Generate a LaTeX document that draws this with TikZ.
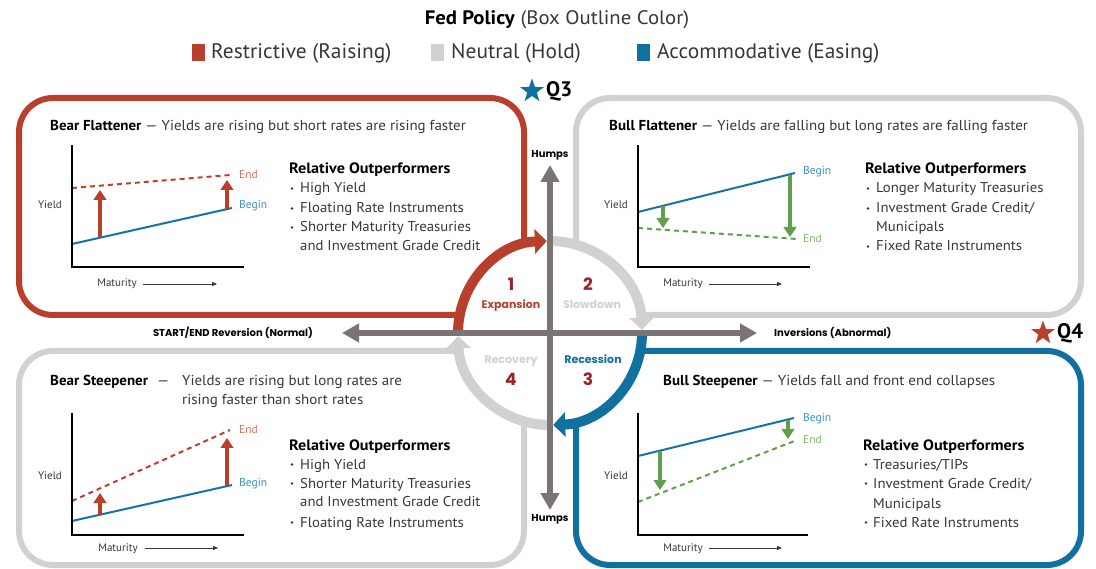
\documentclass[tikz,border=0pt]{standalone}
\usepackage{fontspec}
\setmainfont{PT Sans}
\newfontfamily\gotham{Poppins}
\usetikzlibrary{arrows.meta,shapes.geometric}
\definecolor{cRed}{RGB}{183,63,43}
\definecolor{cBlue}{RGB}{16,112,160}
\definecolor{cGray}{RGB}{210,208,208}
\definecolor{cAxis}{RGB}{122,117,116}
\definecolor{cNum}{RGB}{155,35,40}
\definecolor{cGreen}{RGB}{96,160,76}
\definecolor{cTxt}{RGB}{55,55,55}
\definecolor{cBegin}{RGB}{60,145,195}
\definecolor{cEnd}{RGB}{215,115,90}
\definecolor{cEndG}{RGB}{125,185,105}
\definecolor{cLine}{RGB}{22,115,170}
\definecolor{cDash}{RGB}{192,62,45}
\newcommand\strfont[2]{\fontsize{#1}{#1}\selectfont\addfontfeature{FakeStretch=#2}}
\tikzset{
 every node/.style={inner sep=0pt},
 boxline/.style={line width=6pt, rounded corners=34pt},
 ring/.style={line width=10pt},
 ringtip/.style={-{Triangle[width=24pt,length=12pt]}},
 axisline/.style={draw=cAxis, line width=6pt, {Triangle[width=18pt,length=17pt]}-{Triangle[width=18pt,length=17pt]}},
 ptitle/.style={font=\strfont{14.4}{1.04}, text=cTxt, anchor=base west},
 ro/.style={font=\bfseries\strfont{15}{1.08}, text=black, anchor=base west},
 item/.style={font=\strfont{14.2}{1.04}, text=cTxt, anchor=base west},
 bdot/.style={circle, fill=cTxt, minimum size=2.6pt},
 small/.style={font=\fontsize{11}{13}\selectfont, text=cTxt, anchor=base},
 lbl/.style={font=\fontsize{11.5}{13}\selectfont, anchor=base west},
 chartax/.style={line width=1.6pt, draw=black},
 cbeg/.style={line width=2pt, draw=cLine},
 cend/.style={line width=2pt, dash pattern=on 5pt off 4pt},
 uparr/.style={line width=4.5pt, -{Triangle[width=12.5pt,length=10pt]}},
 matarr/.style={line width=0.8pt, draw=cTxt, -{Triangle[width=4pt,length=5pt]}},
 gl/.style={font=\gotham\bfseries\fontsize{10}{12}\selectfont, text=black},
 num/.style={font=\gotham\bfseries\fontsize{17}{19}\selectfont, text=cNum, anchor=base},
 phase/.style={font=\gotham\bfseries\fontsize{11}{13}\selectfont, anchor=base},
 qstar/.style={star, star points=5, star point ratio=2.5, minimum size=25pt},
 qlab/.style={font=\bfseries\fontsize{21}{23}\selectfont, text=black, anchor=west},
 legsq/.style={minimum width=13pt, minimum height=17pt},
 legt/.style={font=\strfont{21}{1.02}, text=cTxt, anchor=base west},
}
\begin{document}
\begin{tikzpicture}[x=1pt,y=-1pt]
\useasboundingbox (0,0) rectangle (1096,569);
\fill[white] (0,0) rectangle (1096,569);

% legend
\node[font=\strfont{19.5}{1.065}, text=black, anchor=base] (ltitle) at (557,25) {\textbf{Fed Policy} {\color{cTxt}(Box Outline Color)}};
\node[legsq, fill=cRed] (lsq1) at (198.5,52.5) {};
\node[legt] (lt1) at (211,59) {Restrictive (Raising)};
\node[legsq, fill=cGray] (lsq2) at (437.5,52.5) {};
\node[legt] (lt2) at (451,59) {Neutral (Hold)};
\node[legsq, fill=cBlue] (lsq3) at (643.5,52.5) {};
\node[legt] (lt3) at (657,59) {Accommodative (Easing)};

% boxes
\draw[boxline, draw=cRed] (460,315) -- (19,315) -- (19,98) -- (524,98) -- (524,245);
\draw[boxline, draw=cGray] (576,245) -- (576,98) -- (1081,98) -- (1081,315) -- (640,315);
\draw[boxline, draw=cGray] (460,351) -- (19,351) -- (19,565) -- (524,565) -- (524,421);
\draw[boxline, draw=cBlue] (640,351) -- (1081,351) -- (1081,565) -- (576,565) -- (576,421);

% ring
\coordinate (c) at (550,333);
\draw[ring, ringtip, cRed] (c) ++(180:92) arc[start angle=180, end angle=268, radius=92];
\draw[ring, ringtip, cGray] (c) ++(270:92) arc[start angle=270, end angle=358, radius=92];
\draw[ring, ringtip, cBlue] (c) ++(0:92) arc[start angle=0, end angle=88, radius=92];
\draw[ring, ringtip, cGray] (c) ++(90:92) arc[start angle=90, end angle=178, radius=92];

% axes
\coordinate (vt) at (550,165);
\coordinate (vb) at (550,510);
\coordinate (hl) at (342,333);
\coordinate (hr) at (757,333);
\draw[axisline] (vt) -- (vb);
\draw[axisline] (hl) -- (hr);
\node[gl, anchor=base] (humpsT) at (550,158) {Humps};
\node[gl, anchor=base] (humpsB) at (550,521) {Humps};
\node[gl, anchor=base] (startend) at (233,337) {START/END Reversion (Normal)};
\node[gl, anchor=base west] (inv) at (774,337) {Inversions (Abnormal)};

% phases
\node[num] (n1) at (511,291) {1};
\node[phase, text=cRed] (p1) at (511,309) {Expansion};
\node[num] (n2) at (588,291) {2};
\node[phase, text=cGray] (p2) at (592,309) {Slowdown};
\node[phase, text=cGray] (p4) at (511,364) {Recovery};
\node[num] (n4) at (511,386) {4};
\node[phase, text=cBlue] (p3) at (593,364) {Recession};
\node[num] (n3) at (588,386) {3};

% quarter markers
\node[qstar, fill=cBlue] (s3) at (532,91) {};
\node[qlab] (q3) at (546,91) {Q3};
\node[qstar, fill=cRed] (s4) at (1043,333) {};
\node[qlab] (q4) at (1057,333) {Q4};

% ---------- Panel: Bear Flattener ----------
\node[ptitle] (t1) at (50,131) {\textbf{\color{black}Bear Flattener} — Yields are rising but short rates are rising faster};
\draw[cbeg] (72,244) -- (232,208);
\draw[cend, draw=cDash] (72,188) -- (230,175);
\draw[uparr, cRed] (100,238) -- (100,190);
\draw[uparr, cRed] (227,209) -- (227,180);
\draw[chartax] (72,145) -- (72,267) -- (244,267);
\node[small] (y1) at (50,209) {Yield};
\node[small] (m1) at (117,287) {Maturity};
\coordinate (m1a) at (143,284); \coordinate (m1b) at (217,284);
\draw[matarr] (m1a) -- (m1b);
\node[lbl, text=cEnd] (e1) at (239,179) {End};
\node[lbl, text=cBegin] (g1) at (239,209) {Begin};
\node[ro] (r1) at (289,174) {Relative Outperformers};
\node[bdot] (d11) at (292,188.5) {}; \node[item] (i11) at (300,193) {High Yield};
\node[bdot] (d12) at (292,208.5) {}; \node[item] (i12) at (300,213) {Floating Rate Instruments};
\node[bdot] (d13) at (292,227.5) {}; \node[item] (i13) at (300,232) {Shorter Maturity Treasuries};
\node[item] (i14) at (300,251) {and Investment Grade Credit};

% ---------- Panel: Bull Flattener ----------
\node[ptitle] (t2) at (609,131) {\textbf{\color{black}Bull Flattener} — Yields are falling but long rates are falling faster};
\draw[cbeg] (638,212) -- (795,173);
\draw[cend, draw=cGreen] (638,228) -- (797,239);
\draw[uparr, cGreen] (663,206) -- (663,228);
\draw[uparr, cGreen] (790,175) -- (790,237);
\draw[chartax] (638,145) -- (638,267) -- (810,267);
\node[small] (y2) at (616,209) {Yield};
\node[small] (m2) at (683,287) {Maturity};
\coordinate (m2a) at (709,284); \coordinate (m2b) at (782,284);
\draw[matarr] (m2a) -- (m2b);
\node[lbl, text=cBegin] (g2) at (803,175) {Begin};
\node[lbl, text=cEndG] (e2) at (803,243) {End};
\node[ro] (r2) at (865,174) {Relative Outperformers};
\node[bdot] (d21) at (868,188.5) {}; \node[item] (i21) at (876,193) {Longer Maturity Treasuries};
\node[bdot] (d22) at (868,208.5) {}; \node[item] (i22) at (876,213) {Investment Grade Credit/};
\node[item] (i23) at (876,232) {Municipals};
\node[bdot] (d24) at (868,246.5) {}; \node[item] (i24) at (876,251) {Fixed Rate Instruments};

% ---------- Panel: Bear Steepener ----------
\node[ptitle] (t4a) at (50,386) {\textbf{\color{black}Bear Steepener}};
\node[ptitle] (t4d) at (157,386) {—};
\node[ptitle] (t4b) at (182,386) {Yields are rising but long rates are};
\node[ptitle] (t4c) at (182,405) {rising faster than short rates};
\draw[cbeg] (72,521) -- (232,485);
\draw[cend, draw=cDash] (72,501) -- (230,430);
\draw[uparr, cRed] (100,515) -- (100,493);
\draw[uparr, cRed] (227,486) -- (227,438);
\draw[chartax] (72,413) -- (72,535) -- (244,535);
\node[small] (y4) at (50,479) {Yield};
\node[small] (m4) at (118,551) {Maturity};
\coordinate (m4a) at (145,548); \coordinate (m4b) at (218,548);
\draw[matarr] (m4a) -- (m4b);
\node[lbl, text=cEnd] (e4) at (239,434) {End};
\node[lbl, text=cBegin] (g4) at (239,486) {Begin};
\node[ro] (r4) at (289,450) {Relative Outperformers};
\node[bdot] (d41) at (292,464.5) {}; \node[item] (i41) at (300,469) {High Yield};
\node[bdot] (d42) at (292,483.5) {}; \node[item] (i42) at (300,488) {Shorter Maturity Treasuries};
\node[item] (i43) at (300,507) {and Investment Grade Credit};
\node[bdot] (d44) at (292,522.5) {}; \node[item] (i44) at (300,527) {Floating Rate Instruments};

% ---------- Panel: Bull Steepener ----------
\node[ptitle] (t3) at (663,386) {\textbf{\color{black}Bull Steepener} — Yields fall and front end collapses};
\draw[cbeg] (638,456) -- (794,418);
\draw[cend, draw=cGreen] (638,502) -- (797,440);
\draw[uparr, cGreen] (660,451) -- (660,490);
\draw[uparr, cGreen] (788,420) -- (788,439);
\draw[chartax] (638,413) -- (638,535) -- (808,535);
\node[small] (y3) at (616,479) {Yield};
\node[small] (m3) at (683,551) {Maturity};
\coordinate (m3a) at (709,548); \coordinate (m3b) at (782,548);
\draw[matarr] (m3a) -- (m3b);
\node[lbl, text=cBegin] (g3) at (803,421) {Begin};
\node[lbl, text=cEndG] (e3) at (803,443) {End};
\node[ro] (r3) at (863,450) {Relative Outperformers};
\node[bdot] (d31) at (866,464.5) {}; \node[item] (i31) at (873,469) {Treasuries/TIPs};
\node[bdot] (d32) at (866,483.5) {}; \node[item] (i32) at (873,488) {Investment Grade Credit/};
\node[item] (i33) at (873,508) {Municipals};
\node[bdot] (d34) at (866,522.5) {}; \node[item] (i34) at (873,527) {Fixed Rate Instruments};
\end{tikzpicture}
\end{document}
